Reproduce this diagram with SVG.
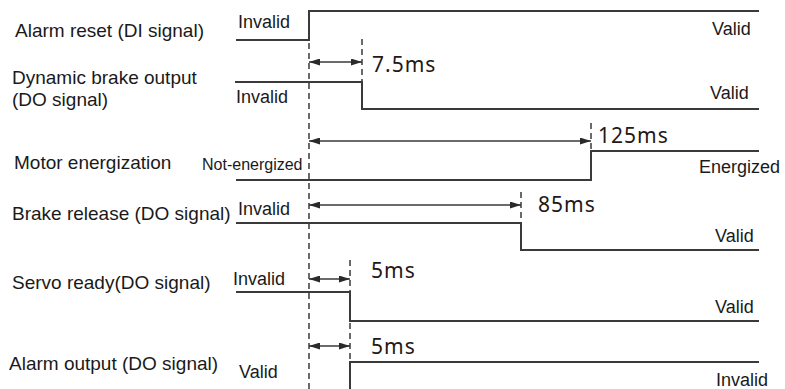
<svg xmlns="http://www.w3.org/2000/svg" width="785" height="389" viewBox="0 0 785 389">
<style>
.bg{fill:#ffffff}
.wave{fill:none;stroke:#3a3a3a;stroke-width:2}
.dash{fill:none;stroke:#3a3a3a;stroke-width:1.5;stroke-dasharray:6 4}
.arr{fill:none;stroke:#3a3a3a;stroke-width:1.5;marker-start:url(#ah);marker-end:url(#ah)}
.lbl{font-family:"Liberation Sans",Arial,sans-serif;font-size:19px;fill:#1a1a1a}
.st{font-family:"Liberation Sans",Arial,sans-serif;font-size:18px;fill:#1a1a1a}
.sm{font-family:"Liberation Sans",Arial,sans-serif;font-size:16px;fill:#1a1a1a}
.ms{font-family:"Noto Sans","Open Sans",sans-serif;font-size:21px;letter-spacing:1px;fill:#231815}
</style>
<defs>
<marker id="ah" viewBox="0 0 11 7" refX="11" refY="3.5" markerWidth="11" markerHeight="7" markerUnits="userSpaceOnUse" orient="auto-start-reverse">
<path d="M0,0 L11,3.5 L0,7 z" fill="#2a2a2a"/>
</marker>
</defs>
<rect class="bg" x="0" y="0" width="785" height="389"/>

<g id="alarm-reset">
<text class="lbl" x="15" y="37">Alarm reset (DI signal)</text>
<text class="st" x="238" y="28">Invalid</text>
<text class="st" x="712" y="35">Valid</text>
<polyline class="wave" points="236,40 309,40 309,11 759,11"/>
</g>

<g id="dynamic-brake">
<text class="lbl" x="12" y="84">Dynamic brake output</text>
<text class="lbl" x="12" y="106">(DO signal)</text>
<text class="st" x="236" y="103">Invalid</text>
<text class="st" x="710" y="99">Valid</text>
<polyline class="wave" points="235,82 362,82 362,109 759,109"/>
</g>

<g id="motor-energization">
<text class="lbl" x="14" y="169">Motor energization</text>
<text class="sm" x="202" y="170">Not-energized</text>
<text class="st" x="699" y="173">Energized</text>
<polyline class="wave" points="236,180 591,180 591,151 759,151"/>
</g>

<g id="brake-release">
<text class="lbl" x="12" y="220">Brake release (DO signal)</text>
<text class="st" x="238" y="215">Invalid</text>
<text class="st" x="715" y="242">Valid</text>
<polyline class="wave" points="236,223 521,223 521,250 759,250"/>
</g>

<g id="servo-ready">
<text class="lbl" x="12" y="289">Servo ready(DO signal)</text>
<text class="st" x="233" y="285">Invalid</text>
<text class="st" x="715" y="313">Valid</text>
<polyline class="wave" points="236,292 350,292 350,321 759,321"/>
</g>

<g id="alarm-output">
<text class="lbl" x="9" y="370">Alarm output (DO signal)</text>
<text class="st" x="239" y="378">Valid</text>
<text class="st" x="716" y="386">Invalid</text>
<polyline class="wave" points="350,392 350,362 759,362"/>
</g>

<g id="connectors">
<line class="dash" x1="309" y1="43" x2="309" y2="389"/>
<line class="dash" x1="362" y1="39" x2="362" y2="81"/>
<line class="dash" x1="591" y1="123" x2="591" y2="151"/>
<line class="dash" x1="521" y1="192" x2="521" y2="223"/>
<line class="dash" x1="350" y1="260" x2="350" y2="292"/>
<line class="dash" x1="350" y1="323" x2="350" y2="362"/>
<line class="arr" x1="309" y1="62" x2="362" y2="62"/>
<line class="arr" x1="309" y1="141" x2="591" y2="141"/>
<line class="arr" x1="309" y1="205" x2="521" y2="205"/>
<line class="arr" x1="309" y1="279" x2="350" y2="279"/>
<line class="arr" x1="309" y1="346" x2="350" y2="346"/>
<text class="ms" x="372" y="72">7.5ms</text>
<text class="ms" x="598" y="143">125ms</text>
<text class="ms" x="538" y="212">85ms</text>
<text class="ms" x="371" y="278">5ms</text>
<text class="ms" x="371" y="354">5ms</text>
</g>
</svg>
